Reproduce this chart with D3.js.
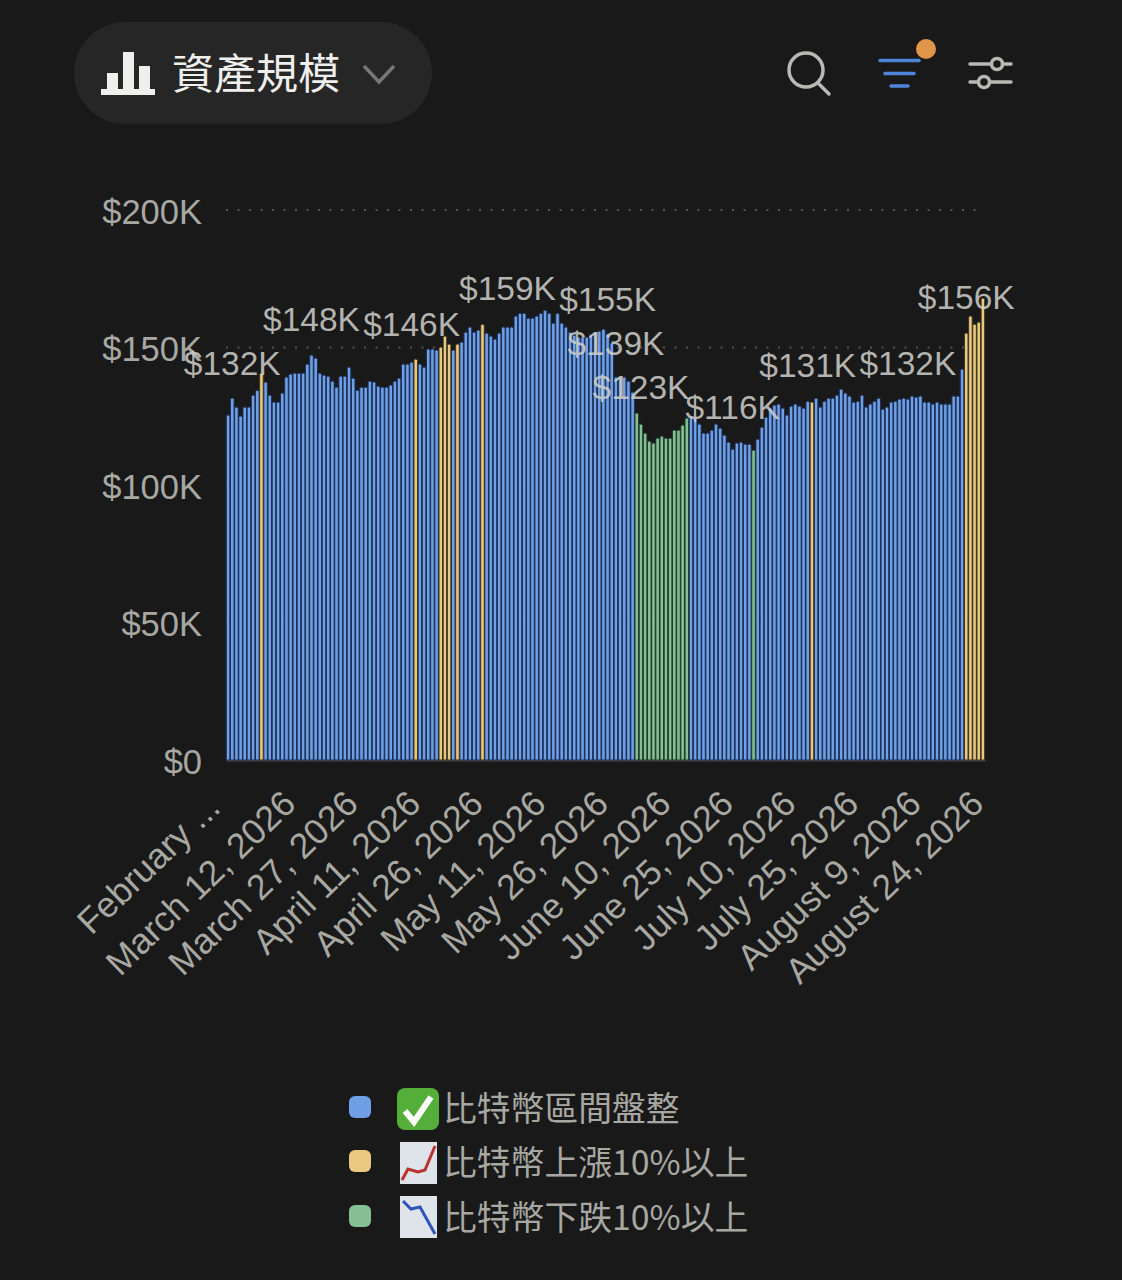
<!DOCTYPE html>
<html>
<head>
<meta charset="utf-8">
<script src="https://cdn.jsdelivr.net/npm/d3@7"></script>
<style>
	html, body { margin: 0; background: #191919; }
	svg { display: block; }
	text { font-family: "Liberation Sans", sans-serif; }
	.cjk { font-family: "Noto Sans CJK TC", sans-serif; }
</style>
</head>
<body>
<div id="chart"></div>
<script>
// asset size in $K per day
const values = [
	125.5, 131.6, 128.4, 125.1, 128.4, 128.4, 132.7, 134.5, 140.7, 137.5,
	132.7, 130.2, 130.2, 133.5, 139.3, 140.4, 140.7, 140.7, 140.7, 144.0,
	147.3, 146.2, 140.7, 140.0, 139.6, 137.8, 135.6, 139.6, 139.6, 142.9,
	138.9, 134.5, 135.6, 135.6, 137.8, 137.5, 136.0, 135.6, 135.6, 136.4,
	137.8, 138.9, 144.0, 144.0, 144.7, 145.8, 144.0, 142.9, 149.5, 149.5,
	149.1, 150.2, 154.2, 151.3, 149.1, 151.3, 152.0, 155.6, 157.5, 155.6,
	156.4, 158.5, 155.3, 154.2, 153.1, 155.3, 157.5, 157.5, 157.5, 161.5,
	162.5, 162.5, 160.7, 160.7, 161.5, 162.5, 163.6, 162.5, 158.9, 162.5,
	158.9, 157.5, 155.6, 154.5, 153.8, 153.8, 153.8, 154.5, 155.6, 156.0,
	156.7, 155.0, 151.6, 139.3, 139.3, 139.3, 137.8, 133.8, 126.2, 122.2,
	118.9, 116.0, 115.3, 117.1, 117.8, 117.1, 117.1, 120.0, 120.0, 121.8,
	124.4, 125.1, 124.4, 122.2, 118.9, 118.9, 120.0, 122.2, 120.7, 118.2,
	115.6, 113.1, 115.3, 115.6, 114.9, 114.9, 112.7, 116.7, 121.1, 124.7,
	128.0, 129.1, 129.5, 128.0, 125.5, 128.7, 129.5, 128.7, 128.0, 130.5,
	130.2, 131.6, 128.4, 130.5, 131.6, 131.6, 132.7, 134.9, 133.5, 132.4,
	130.2, 130.5, 132.7, 128.4, 129.5, 130.5, 131.6, 127.6, 128.4, 130.2,
	130.5, 131.3, 131.6, 131.3, 132.4, 132.0, 132.4, 130.2, 130.2, 129.5,
	130.2, 129.5, 129.5, 129.5, 132.4, 132.4, 142.2, 155.3, 161.5, 158.5,
	159.3, 168.0
];
const upDays = [8, 45, 51, 52, 53, 55, 61, 140, 177, 178, 179, 180, 181];
const downDays = [98, 99, 100, 101, 102, 103, 104, 105, 106, 107, 108, 109, 110, 126];

const yTicks = [0, 50, 100, 150, 200];
const xTickDays = [0, 15, 30, 45, 60, 75, 90, 105, 120, 135, 150, 165, 180];
const xTickLabels = ['February ...', 'March 12, 2026', 'March 27, 2026', 'April 11, 2026', 'April 26, 2026',
	'May 11, 2026', 'May 26, 2026', 'June 10, 2026', 'June 25, 2026', 'July 10, 2026', 'July 25, 2026',
	'August 9, 2026', 'August 24, 2026'];

const labelDays = [1, 20, 44, 67, 91, 93, 99, 121, 139, 163, 177];
const labelValues = [132, 148, 146, 159, 155, 139, 123, 116, 131, 132, 156];

const legendNames = ['比特幣區間盤整', '比特幣上漲10%以上', '比特幣下跌10%以上'];
const colors = ['#6f9fe4', '#e9c97f', '#86bf94'];
const edges = ['#1c2f56', '#3a3120', '#1d3a2a'];

const width = 1122;
const height = 1280;

// small attr shortcut, takes an object
d3.selection.prototype.at = function (attrs) {
	Object.keys(attrs).forEach(k => this.attr(k, attrs[k]));
	return this;
};

const svg = d3.select('#chart').append('svg').attr('width', width).attr('height', height);

const x = d3.scaleBand().domain(d3.range(values.length)).range([226, 985]);
const y = d3.scaleLinear().domain([0, 200]).range([760, 210]);
const kind = i => upDays.includes(i) ? 1 : downDays.includes(i) ? 2 : 0;

function drawHeader() {
	const g = svg.append('g');
	g.append('rect').at({ x: 74, y: 22, width: 358, height: 102, rx: 51, fill: '#262626' });

	// small bars icon
	const ico = g.append('g').attr('fill', '#efefed');
	ico.append('rect').at({ x: 101, y: 89, width: 54, height: 6 });
	ico.append('rect').at({ x: 107, y: 73, width: 11, height: 18 });
	ico.append('rect').at({ x: 123, y: 52, width: 11, height: 39 });
	ico.append('rect').at({ x: 139, y: 66, width: 11, height: 25 });

	g.append('text').attr('class', 'cjk')
		.at({ x: 172, y: 89, fill: '#efefed', 'font-size': 42, 'font-weight': 400 }).text('資產規模');
	g.append('path').at({ d: 'M364 66 L379 82 L394 66', fill: 'none', stroke: '#777', 'stroke-width': 3.5 });

	// search
	const line = { fill: 'none', stroke: '#b9b9b4', 'stroke-width': 3.5, 'stroke-linecap': 'round' };
	g.append('circle').at({ cx: 806, cy: 70, r: 17 }).at(line);
	g.append('path').at({ d: 'M818 83 L829 94' }).at(line);

	// filter
	const blue = { stroke: '#4f85d8', 'stroke-width': 3.5, 'stroke-linecap': 'round' };
	g.append('path').at({ d: 'M880 60.500 L919 60.500' }).at(blue);
	g.append('path').at({ d: 'M885 73.500 L914 73.500' }).at(blue);
	g.append('path').at({ d: 'M891 86 L908 86' }).at(blue);
	g.append('circle').at({ cx: 926, cy: 49, r: 10, fill: '#e0954b' });

	// sliders
	g.append('path').at({ d: 'M970 64 L1011 64 M970 82 L1011 82' }).at(line);
	g.append('circle').at({ cx: 997, cy: 64, r: 5.500, fill: '#191919' }).at({ stroke: '#b9b9b4', 'stroke-width': 3.5 });
	g.append('circle').at({ cx: 984, cy: 82, r: 5.500, fill: '#191919' }).at({ stroke: '#b9b9b4', 'stroke-width': 3.5 });
}

function drawAxes() {
	const $y = svg.append('g').attr('transform', 'translate(226,0)')
		.call(d3.axisLeft(y).tickValues(yTicks).tickSize(0).tickPadding(24)
			.tickFormat(d => d === 0 ? '$0' : `$${d}K`));
	$y.select('.domain').remove();
	$y.selectAll('text').at({ fill: '#a8a8a3', 'font-size': 34.5, dy: '0.39em' }).style('font-family', 'Liberation Sans');

	svg.append('g').selectAll('line').data(yTicks.slice(1)).join('line')
		.at({ x1: 226, x2: 985, y1: d => y(d), y2: d => y(d), stroke: '#55554f', 'stroke-width': 2, 'stroke-dasharray': '2 9.500' });

	const $x = svg.append('g').attr('transform', 'translate(0,760)')
		.call(d3.axisBottom(x).tickValues(xTickDays).tickSize(0)
			.tickFormat((d, i) => xTickLabels[i]));
	$x.select('.domain').at({ stroke: '#4a4a4a', 'stroke-width': 2 });
	$x.selectAll('text')
		.at({ fill: '#a8a8a3', 'font-size': 35.5, 'text-anchor': 'end', dx: 0, dy: 0, y: 0,
			transform: (d, i) => `translate(${i === 0 ? -6 : 7},${i === 0 ? 50 : 46}) rotate(-44)` })
		.style('font-family', 'Liberation Sans');
}

function drawBars() {
	// blue first so the yellow and green ones keep their full width
	const order = d3.range(values.length).sort((a, b) => (kind(a) > 0) - (kind(b) > 0) || a - b);
	svg.append('g').selectAll('path').data(order).join('path')
		.at({
			d: i => {
				const l = x(i) + 0.3;
				const r = x(i) + x.bandwidth() - 0.3;
				const t = y(values[i]);
				return `M${l},${y(0)} V${t + 1.500} Q${l},${t} ${(l + r) / 2},${t} Q${r},${t} ${r},${t + 1.500} V${y(0)} Z`;
			},
			fill: i => colors[kind(i)],
			stroke: i => edges[kind(i)],
			'stroke-width': 1
		});
}

function drawLabels() {
	svg.append('g').selectAll('text').data(labelValues).join('text')
		.at({
			x: (d, i) => x(labelDays[i]) + x.bandwidth() / 2,
			y: d => y(d) - 22.5,
			'text-anchor': 'middle',
			'font-size': 33.500,
			fill: 'rgba(208,208,203,0.85)'
		})
		.text(d => `$${d}K`);
}

function drawLegend() {
	const rows = [1107, 1161, 1216];
	const g = svg.append('g');
	g.selectAll('rect').data(legendNames).join('rect')
		.at({ x: 349, y: (d, i) => rows[i] - 11, width: 22, height: 22, rx: 6, fill: (d, i) => colors[i] });
	g.selectAll('text').data(legendNames).join('text').attr('class', 'cjk')
		.at({ x: 443, y: (d, i) => rows[i] + 14, 'font-size': 33.8, fill: '#a8a8a3' })
		.text(d => d);

	// emoji drawn by hand, there is no colour emoji font here
	g.append('rect').at({ x: 397, y: 1088, width: 42, height: 42, rx: 8, fill: '#55ae3a' });
	g.append('path').at({ d: 'M405 1111 L414 1122 L431 1097', fill: 'none', stroke: '#fff', 'stroke-width': 6 });
	g.append('rect').at({ x: 400, y: 1142, width: 37, height: 42, fill: '#dfe3ea' });
	g.append('path').at({ d: 'M402 1180 L408 1169 L418 1172 L425 1170 L435 1146', fill: 'none', stroke: '#b8322f', 'stroke-width': 3 });
	g.append('rect').at({ x: 400, y: 1196, width: 37, height: 42, fill: '#dfe3ea' });
	g.append('path').at({ d: 'M403 1201 L411 1209 L420 1207 L435 1234', fill: 'none', stroke: '#2f55b8', 'stroke-width': 3 });
}

drawHeader();
drawAxes();
drawBars();
drawLabels();
drawLegend();
</script>
</body>
</html>
